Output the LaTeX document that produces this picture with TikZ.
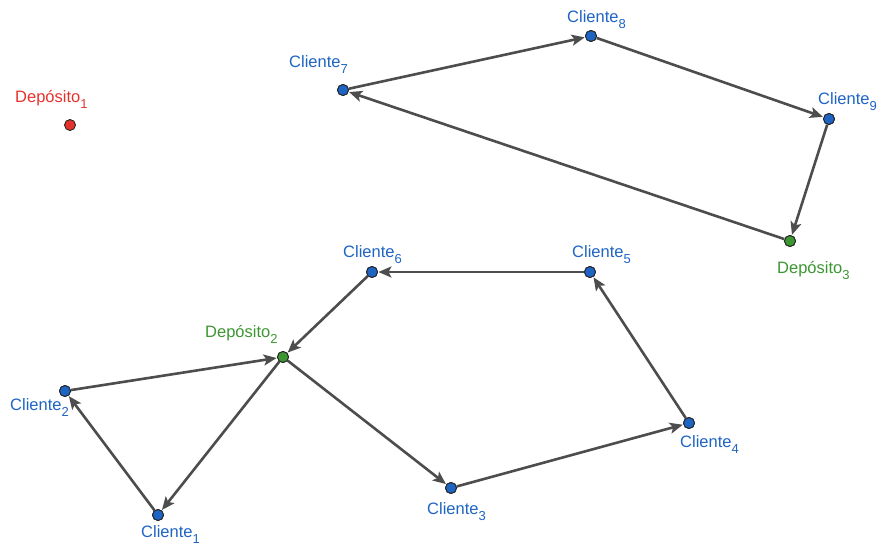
\documentclass[tikz,border=0pt]{standalone}
\usepackage{fontspec}
\setmainfont{Liberation Sans}
\usetikzlibrary{arrows.meta}
\definecolor{cblue}{RGB}{30,100,195}
\definecolor{cred}{RGB}{230,50,45}
\definecolor{cgreen}{RGB}{60,150,50}
\definecolor{cedge}{RGB}{77,77,77}
\newcommand\subx[1]{\raisebox{-6pt}{\fontsize{13}{15}\selectfont #1}}
\tikzset{
  pt/.style={circle, draw=black!85, line width=0.9pt, inner sep=0pt, minimum size=11pt},
  cli/.style={pt, fill=cblue},
  depr/.style={pt, fill=cred},
  depg/.style={pt, fill=cgreen},
  lbl/.style={anchor=base west, inner sep=0pt, font=\fontsize{16.5}{19}\selectfont},
  edge/.style={draw=cedge, line width=2.6pt, -{Stealth[length=13pt,width=11pt,inset=3pt]}, shorten >=0.5pt}
}
\begin{document}
\begin{tikzpicture}[x=1pt,y=-1pt]
\useasboundingbox (0,0) rectangle (880,548);
% points
\node[depr] (d1) at (70,125) {};
\node[depg] (d2) at (283,357) {};
\node[depg] (d3) at (790,241) {};
\node[cli] (c1) at (158,515) {};
\node[cli] (c2) at (65,391) {};
\node[cli] (c3) at (451,488) {};
\node[cli] (c4) at (689,423) {};
\node[cli] (c5) at (590,272) {};
\node[cli] (c6) at (372,272) {};
\node[cli] (c7) at (343,90) {};
\node[cli] (c8) at (591,36) {};
\node[cli] (c9) at (829,119) {};
% edges
\draw[edge] (c7) -- (c8);
\draw[edge] (c8) -- (c9);
\draw[edge] (c9) -- (d3);
\draw[edge] (d3) -- (c7);
\draw[edge] (d2) -- (c3);
\draw[edge] (c3) -- (c4);
\draw[edge] (c4) -- (c5);
\draw[edge] (c5) -- (c6);
\draw[edge] (c6) -- (d2);
\draw[edge] (d2) -- (c1);
\draw[edge] (c1) -- (c2);
\draw[edge] (c2) -- (d2);
% redraw points on top
\foreach \n in {c1,c2,c3,c4,c5,c6,c7,c8,c9}{\node[cli] at (\n) {};}
\node[depg] at (d2) {};
\node[depg] at (d3) {};
% labels
\node[lbl, text=cred] (ld1) at (15,103) {Depósito\subx{1}};
\node[lbl, text=cgreen] (ld2) at (205,337) {Depósito\subx{2}};
\node[lbl, text=cgreen] (ld3) at (777,273) {Depósito\subx{3}};
\node[lbl, text=cblue] (lc1) at (141,537) {Cliente\subx{1}};
\node[lbl, text=cblue] (lc2) at (10,410) {Cliente\subx{2}};
\node[lbl, text=cblue] (lc3) at (427,514) {Cliente\subx{3}};
\node[lbl, text=cblue] (lc4) at (680,447) {Cliente\subx{4}};
\node[lbl, text=cblue] (lc5) at (572,257) {Cliente\subx{5}};
\node[lbl, text=cblue] (lc6) at (343,257) {Cliente\subx{6}};
\node[lbl, text=cblue] (lc7) at (289,68) {Cliente\subx{7}};
\node[lbl, text=cblue] (lc8) at (567,23) {Cliente\subx{8}};
\node[lbl, text=cblue] (lc9) at (818,105) {Cliente\subx{9}};
\end{tikzpicture}
\end{document}
